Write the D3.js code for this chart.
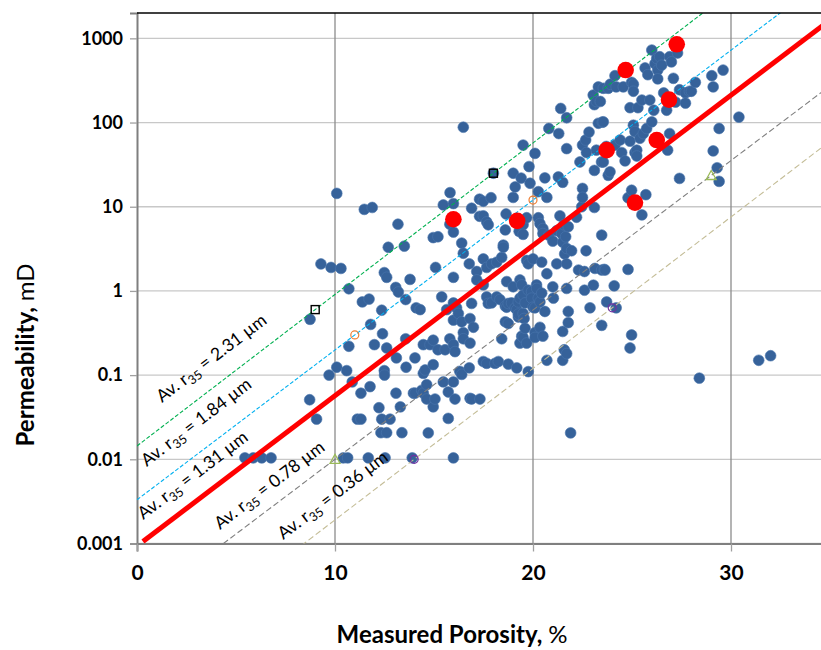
<!DOCTYPE html>
<html>
<head>
<meta charset="utf-8">
<script src="https://cdn.jsdelivr.net/npm/d3@7"></script>
<style>
  body { margin: 0; background: #fff; }
  svg { display: block; font-family: Lato, "Open Sans", sans-serif; }
</style>
</head>
<body>
<svg id="chart"></svg>
<script>
// porosity (%), permeability (mD) of the core plugs
var samplePoints = [
  [5.45,0.0104],[5.87,0.0104],[6.3,0.0104],[6.77,0.0104],
  [8.72,0.051],[8.74,0.46],[9.07,0.03],[9.29,2.09],[9.8,1.9],[9.7,0.1],
  [10.09,14.4],[10.09,0.124],[10.3,1.85],[10.42,0.0104],[10.64,0.0104],[10.59,0.113],[10.7,1.06],[10.7,0.22],[10.87,0.083],
  [11.13,0.03],[11.31,0.03],[11.31,0.061],[11.38,0.74],[11.48,9.3],[11.68,0.0104],[11.72,0.8],[11.77,0.073],[11.8,0.4],[11.88,9.8],[11.99,0.23],
  [12.22,0.041],[12.32,0.0207],[12.36,0.59],[12.36,0.03],[12.4,0.31],[12.49,1.65],[12.49,0.113],[12.5,0.1],[12.53,0.0104],[12.61,1.45],[12.61,0.21],[12.61,0.0207],[12.69,3.3],[12.78,0.03],
  [13.07,1.1],[13.08,0.061],[13.1,0.16],[13.18,6.2],[13.2,0.97],[13.3,0.042],[13.38,0.0207],[13.5,3.4],[13.57,0.79],[13.57,0.27],[13.59,0.124],[13.79,1.37],[13.9,0.0104],[13.96,0.061],
  [14.04,0.16],[14.04,0.061],[14.1,0.63],[14.3,0.6],[14.38,0.066],[14.46,0.061],[14.46,0.105],[14.46,0.23],[14.55,0.115],[14.63,0.077],[14.63,0.052],[14.71,0.0206],[14.8,0.23],[14.96,4.3],[14.96,0.26],[14.96,0.133],[14.96,0.042],
  [15.05,0.052],[15.08,1.9],[15.2,4.4],[15.2,0.2],[15.39,0.85],[15.47,10.5],[15.47,0.083],[15.56,0.2],[15.64,0.6],[15.72,0.063],[15.72,0.0306],[15.8,6.2],[15.8,0.27],[15.81,14.7],[15.98,10.9],[15.98,5.0],[15.98,1.45],[15.98,0.72],[15.98,0.45],[15.98,0.23],[15.98,0.083],[15.98,0.0104],
  [16.06,0.19],[16.06,0.052],[16.14,0.63],[16.23,0.54],[16.3,0.111],[16.4,3.7],[16.4,0.43],[16.4,0.102],[16.48,88],[16.48,2.8],[16.48,0.32],[16.48,0.27],[16.78,2.1],[16.78,0.122],[16.82,0.47],[16.82,0.24],[16.82,0.053],[16.9,9.6],[16.9,0.71],[16.9,0.052],[16.99,0.37],
  [17.16,1.7],[17.16,1.35],[17.3,12.3],[17.3,7.7],[17.32,0.052],[17.49,11.6],[17.49,7.8],[17.49,2.4],[17.49,1.18],[17.49,0.145],[17.66,6.6],[17.66,1.9],[17.66,0.85],[17.66,0.138],[17.74,6.1],[17.74,0.71],[17.88,12.8],[17.91,2.1],[17.91,0.72],
  [18.0,25],[18.08,0.138],[18.17,2.2],[18.17,0.85],[18.25,0.145],[18.33,0.79],[18.42,2.5],[18.42,0.27],[18.5,3.5],[18.5,3.3],[18.6,5.3],[18.6,0.66],[18.6,0.43],[18.64,8.2],[18.67,1.29],[18.67,0.64],[18.75,0.41],[18.75,0.71],[18.75,0.135],[18.92,0.72],
  [19.0,25],[19.0,12.9],[19.0,1.12],[19.1,17.2],[19.1,0.63],[19.18,0.6],[19.18,0.122],[19.26,0.74],[19.26,0.49],[19.26,0.53],[19.3,5.1],[19.34,1.35],[19.34,0.82],[19.34,0.24],[19.4,21.9],[19.43,1.18],[19.43,0.29],[19.5,54],[19.5,6.1],[19.5,4.7],[19.5,0.89],[19.5,0.54],[19.5,0.28],[19.55,0.47],[19.6,0.72],[19.6,0.36],[19.68,7.4],[19.68,2.3],[19.68,0.24],[19.76,2.1],[19.76,1.02],[19.76,0.11],[19.8,30],[19.85,19],[19.93,0.98],[19.93,0.82],
  [20.0,2.4],[20.0,0.64],[20.1,43],[20.1,0.32],[20.1,0.28],[20.1,0.63],[20.18,1.18],[20.19,1.07],[20.27,15.1],[20.27,7.4],[20.27,0.82],[20.35,6.3],[20.35,0.37],[20.35,0.74],[20.44,2.2],[20.44,0.94],[20.5,5.5],[20.5,4.8],[20.5,0.29],[20.6,0.57],[20.6,22],[20.7,12.9],[20.7,1.6],[20.7,0.15],[20.8,85],[20.8,4.6],
  [21.0,1.12],[21.0,3.9],[21.03,0.82],[21.2,5.2],[21.2,2.1],[21.28,22.6],[21.3,74],[21.36,7.8],[21.4,147],[21.45,4.8],[21.5,19.5],[21.5,3.8],[21.5,0.33],[21.5,0.15],[21.56,6.1],[21.58,0.2],[21.6,2.75],[21.65,4.4],[21.7,114],[21.7,49],[21.7,3.2],[21.7,2.1],[21.7,1.07],[21.7,0.18],[21.78,5.8],[21.78,0.57],[21.78,0.42],[21.9,0.0206],[21.95,3.0],
  [22.2,7.5],[22.3,1.77],[22.37,34],[22.46,10],[22.5,16.5],[22.5,12.9],[22.5,54],[22.6,1.7],[22.6,1.02],[22.66,62],[22.68,3.0],[22.7,44],[22.83,77],[22.88,0.63],
  [23.04,212],[23.05,1.17],[23.1,163],[23.1,9.8],[23.1,27],[23.13,1.85],[23.2,178],[23.2,47],[23.3,265],[23.3,98],[23.4,178],[23.46,34],[23.47,4.6],[23.47,1.77],[23.47,0.39],[23.5,101],[23.55,255],[23.55,102],[23.55,34],[23.6,1.8],[23.64,1.77],[23.7,52],[23.72,0.74],[23.8,255],[23.8,23.6],[23.89,26],[23.9,285],
  [24.1,1.15],[24.14,360],[24.14,54],[24.2,265],[24.2,0.63],[24.4,62],[24.48,44],[24.56,265],[24.65,35],[24.8,12.8],[24.8,1.8],[24.9,150],[24.9,60],[24.9,0.21],[24.98,300],[24.98,15.7],[24.98,0.3],
  [25.07,285],[25.07,235],[25.07,93],[25.15,78],[25.15,44],[25.24,47],[25.24,40],[25.3,150],[25.4,65],[25.5,185],[25.5,8.0],[25.57,74],[25.66,445],[25.7,13.9],[25.74,85],[25.8,370],[25.9,185],
  [26.0,726],[26.0,102],[26.1,140],[26.16,500],[26.25,578],[26.3,420],[26.3,330],[26.4,605],[26.5,480],[26.6,225],[26.75,140],[26.8,47],[26.9,605],[26.9,74],[26.99,525],
  [27.09,335],[27.2,175],[27.3,670],[27.4,245],[27.4,21.7],[27.7,225],[27.7,170],[27.9,235],[28.0,235],[28.2,300],[28.4,0.092],
  [29.03,360],[29.1,265],[29.1,46],[29.3,29],[29.4,85],[29.4,20],[29.6,420],[30.4,116],[31.4,0.15],[32.0,0.17]
];

// highlighted samples (red)
var redPoints = [
  [15.98,7.1],[19.2,6.8],[23.72,47],[24.68,420],[25.15,11.2],[26.25,62],[26.87,187],[27.26,850]
];

// r35 iso-lines, each drawn through its two anchor points
var r35Colors = ['#00b050', '#00b0f0', '#7f7f7f', '#c4bd97'];
var r35Dash = ['4,2', '4,2', '6,3', '6,3'];
var r35Anchors = [
  [[9.0,0.6],[18.0,25]],
  [[11.0,0.3],[20.0,12]],
  [[10.0,0.01],[29.0,23.5]],
  [[14.0,0.01],[24.0,0.63]]
];
var anchorShapes = ['square', 'circle', 'triangle', 'circle'];
var anchorColors = ['#000000', '#ed7d31', '#9bbb59', '#7030a0'];

// trend line (r35 = 1.31 um): log10(k) = a + b * phi
var trendCoef = [-3.03, 0.1785];

// where the text of each line label starts
var labelTexts = ['2.31', '1.84', '1.31', '0.78', '0.36'];
var labelAnchors = [[1.26,0.0467],[0.49,0.0081],[0.32,0.0019],[4.19,0.00145],[7.39,0.0011]];

var xTicks = [0, 10, 20, 30];
var yTicks = [0.001, 0.01, 0.1, 1, 10, 100, 1000];
var yTickLabels = ['0.001', '0.01', '0.1', '1', '10', '100', '1000'];

var config = {
  svgWidth: 821,
  svgHeight: 650,
  left: 137,
  top: 13,
  plotWidth: 693,
  plotHeight: 530.5,
  xMax: 35,
  yMin: 0.001,
  yMax: 2000,
  dotRadius: 5.4,
  redRadius: 8.3,
  blue: '#36629a',
};

var svg = d3.select('#chart')
  .attr('width', config.svgWidth)
  .attr('height', config.svgHeight);

var x = d3.scaleLinear().domain([0, config.xMax]).range([0, config.plotWidth]);
var y = d3.scaleLog().domain([config.yMin, config.yMax]).range([config.plotHeight, 0]);

svg.append('defs').append('clipPath').attr('id', 'plot-clip')
  .append('rect').attr('width', config.plotWidth).attr('height', config.plotHeight);

var g = svg.append('g')
  .attr('transform', 'translate(' + config.left + ',' + config.top + ')');

// grid
g.selectAll('.hgrid').data(yTicks).enter().append('line')
  .attr('x1', 0).attr('x2', config.plotWidth)
  .attr('y1', function(d) { return y(d); }).attr('y2', function(d) { return y(d); })
  .attr('stroke', '#c8c8c8').attr('stroke-width', 1.3);
g.selectAll('.vgrid').data(xTicks.slice(1)).enter().append('line')
  .attr('x1', function(d) { return x(d); }).attr('x2', function(d) { return x(d); })
  .attr('y1', 0).attr('y2', config.plotHeight)
  .attr('stroke', '#8c8c8c').attr('stroke-width', 1.3);

// axes
var yAxis = g.append('g')
  .call(d3.axisLeft(y).tickValues(yTicks).tickFormat(function(d, i) { return yTickLabels[i]; }).tickSize(7).tickPadding(7));
var xAxis = g.append('g')
  .attr('transform', 'translate(0,' + config.plotHeight + ')')
  .call(d3.axisBottom(x).tickValues(xTicks).tickSize(8).tickPadding(14));
[yAxis, xAxis].forEach(function(ax) {
  ax.select('.domain').attr('stroke', '#7f7f7f').attr('stroke-width', 2);
  ax.selectAll('.tick line').attr('stroke', '#a0a0a0').attr('stroke-width', 1.3);
  ax.selectAll('.tick text').attr('fill', '#000').attr('font-weight', 'bold')
    .attr('font-family', 'Lato, sans-serif');
});
yAxis.selectAll('.tick text').attr('font-size', '18px');
xAxis.selectAll('.tick text').attr('font-size', '21px');

// top frame line
svg.append('line')
  .attr('x1', config.left).attr('x2', config.svgWidth)
  .attr('y1', config.top).attr('y2', config.top)
  .attr('stroke', '#000').attr('stroke-width', 1.5);

var plot = g.append('g').attr('clip-path', 'url(#plot-clip)');

// blue samples
plot.selectAll('.dot').data(samplePoints).enter().append('circle')
  .attr('cx', function(d) { return x(d[0]); })
  .attr('cy', function(d) { return y(d[1]); })
  .attr('r', config.dotRadius)
  .attr('fill', config.blue)
  .attr('stroke', '#4a76ad').attr('stroke-width', 0.6);

// dashed r35 lines
function lineThrough(p1, p2) {
  var b = (Math.log10(p2[1]) - Math.log10(p1[1])) / (p2[0] - p1[0]);
  var a = Math.log10(p1[1]) - b * p1[0];
  return [[0, Math.pow(10, a)], [config.xMax, Math.pow(10, a + b * config.xMax)]];
}
var line = d3.line()
  .x(function(d) { return x(d[0]); })
  .y(function(d) { return y(d[1]); });

r35Anchors.forEach(function(pair, i) {
  plot.append('path')
    .attr('d', line(lineThrough(pair[0], pair[1])))
    .attr('fill', 'none')
    .attr('stroke', r35Colors[i])
    .attr('stroke-width', 1.1)
    .attr('stroke-dasharray', r35Dash[i]);
});

// trend line
var trendEnds = [0.3, config.xMax].map(function(p) {
  return [p, Math.pow(10, trendCoef[0] + trendCoef[1] * p)];
});
plot.append('path')
  .attr('d', line(trendEnds))
  .attr('fill', 'none')
  .attr('stroke', '#ff0000')
  .attr('stroke-width', 5);

// red samples
plot.selectAll('.red').data(redPoints).enter().append('circle')
  .attr('cx', function(d) { return x(d[0]); })
  .attr('cy', function(d) { return y(d[1]); })
  .attr('r', config.redRadius)
  .attr('fill', '#ff0000');

// anchor markers
r35Anchors.forEach(function(pair, i) {
  pair.forEach(function(p) {
    var cx = x(p[0]), cy = y(p[1]);
    if (anchorShapes[i] === 'square') {
      plot.append('rect').attr('x', cx - 4).attr('y', cy - 4).attr('width', 8).attr('height', 8)
        .attr('fill', 'none').attr('stroke', anchorColors[i]).attr('stroke-width', 1.4);
    } else if (anchorShapes[i] === 'triangle') {
      plot.append('path')
        .attr('d', 'M' + cx + ',' + (cy - 5) + 'L' + (cx + 5) + ',' + (cy + 4) + 'L' + (cx - 5) + ',' + (cy + 4) + 'Z')
        .attr('fill', 'none').attr('stroke', anchorColors[i]).attr('stroke-width', 1.3);
    } else {
      plot.append('circle').attr('cx', cx).attr('cy', cy).attr('r', 4)
        .attr('fill', 'none').attr('stroke', anchorColors[i]).attr('stroke-width', 1.2);
    }
  });
});

// line labels
var angle = Math.atan2(y(10) - y(Math.pow(10, 1 + trendCoef[1])), x(1) - x(0)) * 180 / Math.PI;
labelAnchors.forEach(function(p, i) {
  var t = g.append('text')
    .attr('transform', 'translate(' + x(p[0]) + ',' + y(p[1]) + ') rotate(' + (-angle) + ')')
    .attr('font-size', '17.5px')
    .attr('fill', '#000');
  t.append('tspan').text('Av. r');
  t.append('tspan').attr('font-size', '12.5px').attr('dy', 4).text('35');
  t.append('tspan').attr('dy', -4).text(' = ' + labelTexts[i] + ' \u00b5m');
});

// axis titles
var xTitle = svg.append('text')
  .attr('x', 452).attr('y', 643)
  .attr('text-anchor', 'middle')
  .attr('font-size', '24px')
  .attr('fill', '#000');
xTitle.append('tspan').attr('font-weight', 'bold').text('Measured Porosity, ');
xTitle.append('tspan').text('%');

var yTitle = svg.append('text')
  .attr('transform', 'translate(34,355) rotate(-90)')
  .attr('text-anchor', 'middle')
  .attr('font-size', '24px')
  .attr('fill', '#000');
yTitle.append('tspan').attr('font-weight', 'bold').text('Permeability, ');
yTitle.append('tspan').text('mD');
</script>
</body>
</html>
